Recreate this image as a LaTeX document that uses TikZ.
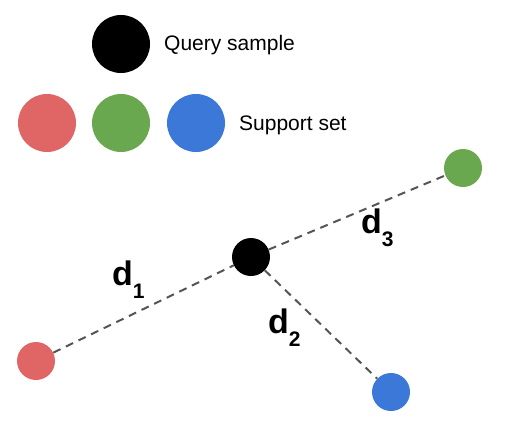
\documentclass[tikz,border=0pt]{standalone}
\usepackage{fontspec}
\setmainfont{Liberation Sans}
\definecolor{qred}{HTML}{E06666}
\definecolor{qgreen}{HTML}{6AA84F}
\definecolor{qblue}{HTML}{3C78D8}
\definecolor{qgray}{HTML}{555555}
\newcommand{\dist}[1]{d\raisebox{-13pt}{\fontsize{21}{21}\selectfont #1}}

\begin{document}
\begin{tikzpicture}[x=1pt,y=-1pt,
  big/.style={circle,minimum size=58pt,inner sep=0pt},
  small/.style={circle,minimum size=38pt,inner sep=0pt},
  link/.style={qgray,line width=2pt,dash pattern=on 8pt off 6pt},
  dlabel/.style={anchor=base west,inner sep=0pt,font=\fontsize{34}{34}\selectfont\bfseries}]
  \useasboundingbox (0,0) rectangle (513,441);
  % legend
  \draw(121,44) node[big,fill=black] (LQ) {};
  \draw(47,123) node[big,fill=qred] (LR) {};
  \draw(121,123) node[big,fill=qgreen] (LG) {};
  \draw(196,123) node[big,fill=qblue] (LB) {};
  \node [anchor=base west,inner sep=0pt,font=\fontsize{21}{21}\selectfont] (query) at (164,51) {Query sample};
  \node [anchor=base west,inner sep=0pt,font=\fontsize{21}{21}\selectfont] (support) at (239,130) {Support set};
  % samples
  \draw(251,257) node[small,fill=black] (Q) {};
  \draw(36,361) node[small,fill=qred] (R) {};
  \draw(391,392) node[small,fill=qblue] (B) {};
  \draw(463,168) node[small,fill=qgreen] (G) {};
  \draw[link] (R) --  (Q);
  \draw[link] (Q) --  (B);
  \draw[link] (Q) --  (G);
  \node [dlabel] (d1) at (112,285) {\dist{1}};
  \node [dlabel] (d2) at (268,333) {\dist{2}};
  \node [dlabel] (d3) at (361,233) {\dist{3}};
\end{tikzpicture}
\end{document}
